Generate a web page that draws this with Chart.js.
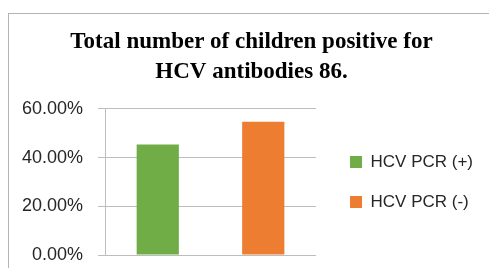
<!DOCTYPE html>
<html>
<head>
<meta charset="utf-8">
<script src="https://cdn.jsdelivr.net/npm/chart.js@4/dist/chart.umd.min.js"></script>
<style>
  html, body { margin: 0; padding: 0; background: #fff; overflow: hidden; }
  #box {
    position: absolute; left: 8px; top: 13px;
    width: 480px; height: 280px;
    border: 1px solid #b4b4b4;
  }
  #chart { display: block; }
</style>
</head>
<body>
<div id="box"><canvas id="chart" width="480" height="280"></canvas></div>
<script>
// series (86 children: 39 positive, 47 negative)
var series_names = ['HCV PCR (+)', 'HCV PCR (-)'];
var series_values = [45.35, 54.65];
var series_colors = ['#70ad47', '#ed7d31'];
var y_ticks = [0, 20, 40, 60];
var chart_title = ['Total number of children positive for', 'HCV antibodies 86.'];

// each series sits in its own slot on the x axis
var slots = series_names.map(function(){ return ''; });

var datasets = series_names.map(function(name, i){
  var d = series_names.map(function(){ return null; });
  d[i] = series_values[i];
  return {
    label: name,
    data: d,
    backgroundColor: series_colors[i],
    borderWidth: 0,
    categoryPercentage: 0.5,
    barPercentage: 0.8
  };
});

var sans = "'Liberation Sans', Arial, sans-serif";
var grid_color = '#bdbdbd';

new Chart(document.getElementById('chart'), {
  type: 'bar',
  data: { labels: slots, datasets: datasets },
  options: {
    responsive: false,
    animation: false,
    layout: { padding: { left: 11, right: 6, top: 0, bottom: 39 } },
    plugins: {
      title: {
        display: true,
        text: chart_title,
        color: '#000',
        font: { family: "'Liberation Serif', 'Times New Roman', serif", size: 23, weight: 'bold', lineHeight: 1.3 },
        padding: { top: 13, bottom: 22 }
      },
      legend: {
        position: 'right',
        fullSize: false,
        maxWidth: 220,
        labels: {
          boxWidth: 12,
          boxHeight: 12,
          padding: 23,
          color: '#262626',
          font: { family: sans, size: 17 }
        }
      },
      tooltip: { enabled: false }
    },
    scales: {
      x: {
        display: false,
        stacked: true
      },
      y: {
        stacked: true,
        min: 0,
        max: 60,
        afterFit: function(scale){ scale.width = 85; },
        afterBuildTicks: function(scale){
          scale.ticks = y_ticks.map(function(v){ return { value: v }; });
        },
        ticks: {
          color: '#262626',
          font: { family: sans, size: 18 },
          padding: 15,
          callback: function(v){ return v.toFixed(2) + '%'; }
        },
        grid: { color: grid_color, tickLength: 7 },
        border: { color: grid_color }
      },
      // empty spacer between plot and legend
      gap: {
        position: 'right',
        afterFit: function(scale){ scale.width = 11; },
        grid: { display: false },
        border: { display: false },
        ticks: { display: false }
      }
    }
  }
});
</script>
</body>
</html>
